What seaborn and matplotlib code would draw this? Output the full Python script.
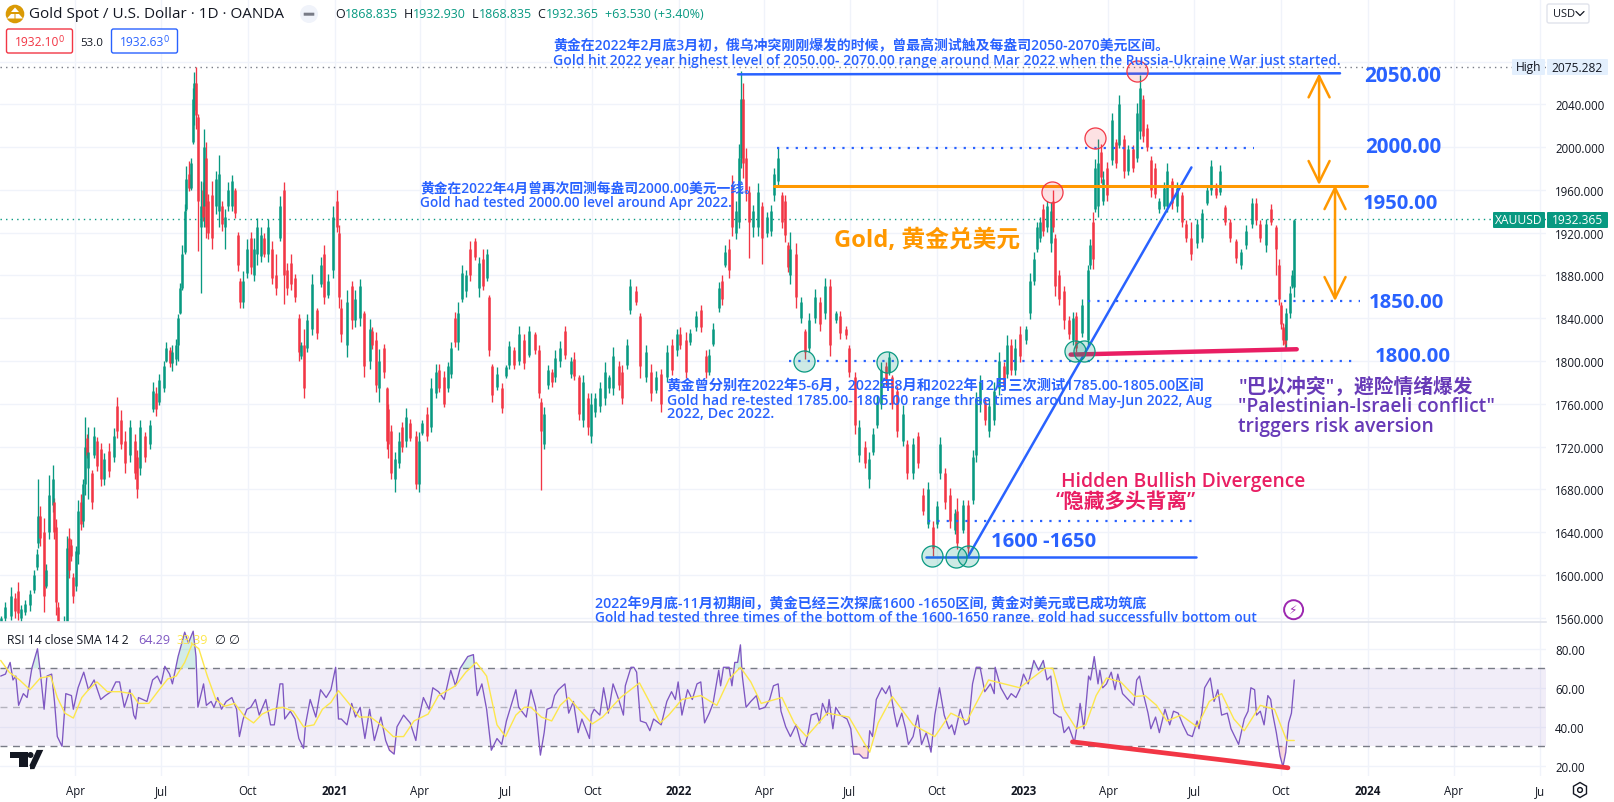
import numpy as np
import pandas as pd
import matplotlib
matplotlib.use("Agg")
import matplotlib.pyplot as plt
from matplotlib.patches import FancyBboxPatch, Circle, Polygon, RegularPolygon
import seaborn as sns

W, H = 1614, 803
PANE_R, MAIN_B, RSI_B = 1546, 623, 777
UP, DOWN = "#089981", "#F23645"
BLUE, ORANGE, PINK, PURPLE = "#2962FF", "#FF9800", "#E91E63", "#673AB7"
GRID = "#F0F3FA"

# bar position = calendar days after 2020-01-13
day_a = [0,5,11,15,18,22,26,31,35,38,
 40,42,46,48,51,55,57,59,61,64,
 67,70,72,75,77,80,82,85,87,89,
 91,93,97,99,102,106,109,115,120,123,
 127,132,137,142,144,148,153,158,161,165,
 168,173,175,179,182,186,188,190,192,195,
 196,200,202,204,205,207,209,212,214,216,
 218,220,224,228,231,235,238,241,245,248,
 252,254,257,261,265,268,272,276,279,283,
 288,292,296,300,303,308,312,316,318,321,
 325,330,335,339,343,347,352,356,359,361,
 367,372,376,381,385,391,394,398,401,406,
 409,411,414,418,422,425,430,434,440,443,
 447,452,456,461,465,470,474,477,482,485,
 489,493,497,503,507,511,515,518,521,526,
 531,536,539,544,549,555,560,566]
high_a = [1562,1575,1589,1583,1593,1572,1577,1586,1605,1624,
 1690,1664,1653,1610,1693,1703,1672,1652,1575,1520,
 1562,1636,1644,1634,1602,1627,1670,1676,1690,1748,
 1732,1738,1698,1738,1729,1723,1714,1723,1737,1766,
 1754,1735,1745,1732,1717,1745,1734,1745,1780,1776,
 1788,1800,1818,1813,1815,1821,1844,1873,1908,1947,
 1982,1987,1990,2055,2070,2075,2031,1968,1967,2017,
 2005,1956,1968,1978,1993,1950,1942,1967,1974,1962,
 1921,1878,1884,1914,1921,1915,1934,1925,1920,1933,
 1912,1900,1954,1967,1892,1900,1881,1844,1818,1830,
 1844,1881,1850,1897,1908,1881,1945,1960,1927,1858,
 1866,1875,1866,1877,1847,1839,1832,1827,1811,1816,
 1776,1760,1740,1715,1734,1743,1756,1746,1735,1734,
 1745,1757,1784,1797,1797,1791,1799,1818,1846,1855,
 1890,1885,1912,1915,1897,1905,1905,1862,1797,1794,
 1779,1796,1819,1813,1833,1825,1833,1827]
low_a = [1552,1555,1558,1560,1558,1556,1563,1566,1583,1605,
 1625,1627,1565,1588,1634,1659,1634,1563,1500,1470,
 1480,1540,1597,1613,1574,1585,1610,1642,1645,1675,
 1709,1671,1662,1709,1697,1683,1684,1692,1706,1728,
 1718,1695,1706,1690,1672,1693,1706,1718,1752,1749,
 1759,1771,1799,1794,1791,1796,1800,1844,1866,1900,
 1940,1959,1960,2003,2021,2017,1903,1864,1931,1925,
 1915,1914,1905,1937,1925,1922,1905,1940,1940,1934,
 1884,1850,1850,1878,1881,1875,1890,1893,1897,1893,
 1872,1862,1912,1853,1862,1866,1855,1800,1802,1765,
 1808,1824,1821,1869,1853,1859,1878,1921,1850,1818,
 1804,1830,1832,1833,1785,1793,1811,1771,1762,1784,
 1718,1709,1690,1678,1700,1715,1720,1725,1680,1678,
 1731,1725,1734,1765,1771,1757,1771,1784,1813,1810,
 1855,1860,1875,1894,1860,1866,1875,1805,1762,1773,
 1751,1784,1793,1793,1796,1793,1804,1807]
open_a = [1556,1560,1562,1578,1585,1560,1565,1572,1586,1607,
 1630,1655,1640,1590,1640,1665,1668,1645,1570,1505,
 1490,1545,1635,1628,1598,1590,1620,1668,1650,1685,
 1728,1700,1695,1712,1725,1718,1690,1716,1710,1758,
 1745,1725,1712,1725,1710,1700,1730,1722,1755,1770,
 1762,1775,1800,1810,1798,1802,1815,1845,1868,1902,
 1942,1975,1962,2005,2035,2060,2028,1925,1960,1945,
 1990,1950,1955,1945,1940,1945,1925,1945,1945,1960,
 1918,1875,1855,1882,1915,1880,1900,1898,1915,1900,
 1905,1880,1915,1960,1885,1892,1878,1840,1805,1815,
 1812,1830,1848,1872,1900,1862,1885,1950,1920,1850,
 1815,1870,1838,1840,1845,1800,1828,1820,1775,1812,
 1775,1755,1735,1690,1705,1738,1725,1742,1730,1685,
 1733,1750,1738,1770,1792,1785,1775,1788,1840,1818,
 1858,1865,1905,1912,1868,1895,1878,1860,1795,1776,
 1775,1786,1796,1810,1800,1820,1806,1825]
close_a = [1560,1570,1580,1566,1564,1568,1573,1582,1600,1620,
 1655,1635,1580,1605,1675,1690,1640,1575,1510,1490,
 1550,1625,1605,1618,1580,1622,1660,1648,1685,1720,
 1712,1715,1668,1730,1702,1690,1708,1697,1730,1735,
 1722,1705,1738,1695,1680,1738,1710,1740,1772,1755,
 1782,1795,1812,1798,1808,1815,1840,1868,1900,1940,
 1970,1962,1985,2045,2060,2030,1950,1945,1935,2000,
 1925,1920,1915,1970,1975,1928,1935,1960,1968,1938,
 1890,1855,1875,1905,1888,1905,1925,1918,1900,1925,
 1878,1868,1945,1880,1868,1872,1860,1808,1815,1775,
 1838,1872,1826,1890,1860,1875,1935,1925,1860,1825,
 1855,1838,1858,1870,1795,1830,1815,1778,1800,1790,
 1725,1722,1695,1708,1725,1720,1748,1728,1685,1725,
 1742,1730,1775,1790,1775,1760,1795,1812,1818,1845,
 1882,1880,1880,1897,1892,1870,1900,1810,1768,1788,
 1756,1794,1814,1796,1825,1798,1828,1810]

day_b = [571,573,576,580,584,588,593,598,604,608,
 613,617,622,626,630,635,640,645,649,655,
 659,664,667,673,678,684,689,695,700,706,
 711,717,720,726,731,737,742,747,751,755,
 761,764,768,772,775,779,782,785,787,790,
 793,797,803,807,812,816,820,824,828,831,
 834,837,843,848,852,857,863,868,874,879,
 885,890,896,899,905,910,916,920,925,929,
 933,938,941,945,950,956,961,967,972,978,
 983,988,992,996,1001,1006,1011,1014,1020,1025,
 1030,1034,1038,1043,1047,1053,1058,1063,1067,1071,
 1075,1080,1087,1091,1095,1098,1102,1105,1109,1113,
 1115,1117,1122]
high_b = [1815,1765,1757,1796,1793,1810,1819,1833,1804,1808,
 1787,1787,1770,1770,1770,1780,1799,1787,1813,1800,
 1796,1821,1877,1870,1845,1815,1797,1791,1793,1815,
 1821,1830,1832,1827,1830,1847,1852,1810,1811,1836,
 1874,1880,1908,1914,1974,1950,2003,2071,2060,1999,
 1964,1946,1966,1949,1939,1946,1980,1999,1958,1955,
 1911,1921,1910,1860,1830,1845,1867,1860,1878,1877,
 1847,1847,1833,1815,1790,1745,1725,1715,1737,1768,
 1799,1799,1808,1787,1777,1759,1726,1728,1734,1681,
 1687,1650,1669,1729,1700,1681,1662,1672,1670,1670,
 1717,1771,1787,1765,1765,1780,1808,1799,1824,1821,
 1821,1833,1833,1882,1902,1930,1935,1947,1950,1949,
 1960,1919,1885]
low_b = [1765,1679,1718,1774,1776,1780,1794,1802,1784,1782,
 1745,1738,1731,1723,1748,1752,1759,1770,1768,1773,
 1760,1793,1844,1852,1784,1780,1763,1770,1752,1780,
 1787,1805,1811,1784,1815,1828,1827,1784,1787,1814,
 1846,1852,1888,1878,1917,1914,1924,1980,1971,1950,
 1896,1916,1917,1891,1916,1917,1950,1964,1924,1911,
 1883,1872,1850,1836,1802,1808,1836,1828,1839,1805,
 1836,1821,1821,1785,1732,1706,1700,1681,1712,1737,
 1755,1777,1787,1755,1729,1721,1690,1690,1700,1656,
 1644,1618,1644,1690,1662,1644,1638,1624,1639,1619,
 1666,1706,1752,1740,1729,1740,1768,1774,1784,1787,
 1787,1799,1816,1839,1871,1902,1911,1917,1921,1902,
 1921,1861,1852]
open_b = [1810,1762,1722,1778,1790,1785,1800,1828,1788,1802,
 1785,1745,1765,1730,1752,1758,1765,1775,1775,1795,
 1790,1796,1848,1865,1842,1785,1790,1773,1788,1785,
 1815,1810,1825,1820,1818,1832,1848,1805,1790,1816,
 1850,1875,1890,1905,1965,1920,1930,1990,2045,1990,
 1958,1925,1925,1945,1920,1922,1955,1968,1955,1950,
 1908,1880,1900,1840,1828,1812,1840,1855,1845,1870,
 1838,1842,1830,1812,1785,1712,1720,1690,1715,1740,
 1760,1795,1790,1785,1772,1725,1722,1695,1730,1675,
 1648,1645,1648,1695,1695,1675,1642,1660,1642,1665,
 1670,1712,1760,1762,1735,1745,1775,1795,1788,1815,
 1792,1825,1820,1845,1875,1905,1915,1942,1925,1910,
 1950,1915,1880]
close_b = [1770,1735,1750,1792,1780,1803,1812,1806,1800,1786,
 1750,1780,1738,1760,1765,1775,1790,1785,1805,1778,
 1765,1815,1870,1855,1795,1808,1770,1785,1760,1808,
 1792,1825,1815,1790,1826,1842,1832,1790,1806,1830,
 1868,1858,1902,1885,1925,1940,1990,2045,1985,1960,
 1930,1940,1958,1915,1935,1940,1975,1990,1930,1918,
 1888,1905,1860,1855,1808,1838,1860,1835,1870,1815,
 1845,1826,1824,1790,1740,1738,1705,1708,1732,1762,
 1792,1782,1804,1760,1735,1750,1695,1722,1705,1660,
 1680,1625,1664,1722,1668,1650,1658,1630,1665,1625,
 1710,1765,1780,1745,1758,1772,1800,1778,1815,1792,
 1812,1805,1830,1875,1895,1925,1930,1922,1945,1940,
 1925,1870,1858]

day_c = [1127,1132,1137,1140,1146,1152,1155,1158,1160,1163,
 1166,1168,1172,1178,1182,1185,1191,1195,1200,1204,
 1207,1211,1215,1219,1223,1228,1233,1236,1241,1247,
 1252,1256,1262,1268,1273,1279,1283,1288,1292,1298,
 1303,1309,1315,1320,1326,1330,1335,1341,1346,1352,
 1355,1357,1359,1361,1362,1366,1369,1371]
high_c = [1870,1842,1846,1846,1858,1890,1914,1939,1989,2008,
 2003,1978,1986,2032,2008,2049,2011,2002,2002,2041,
 2067,2049,2022,1992,1985,1952,1967,1985,1971,1967,
 1958,1932,1930,1933,1942,1964,1988,1966,1983,1946,
 1933,1914,1905,1927,1952,1952,1932,1933,1947,1927,
 1895,1855,1836,1835,1850,1870,1885,1933]
low_c = [1830,1821,1815,1808,1822,1814,1886,1886,1939,1935,
 1966,1946,1950,1983,1980,1999,1971,1974,1977,1986,
 2008,2005,1996,1953,1952,1938,1942,1939,1942,1939,
 1925,1911,1894,1906,1911,1946,1955,1952,1955,1927,
 1911,1892,1886,1905,1924,1927,1911,1902,1927,1880,
 1852,1830,1815,1811,1811,1840,1868,1860]
open_c = [1865,1838,1820,1842,1826,1820,1890,1930,1942,1945,
 1995,1950,1980,1988,2005,2002,2008,1978,1998,1990,
 2015,2045,2018,1988,1980,1942,1945,1945,1968,1945,
 1955,1928,1915,1910,1915,1948,1960,1962,1958,1944,
 1930,1912,1890,1908,1928,1948,1928,1908,1942,1925,
 1890,1852,1832,1830,1820,1845,1870,1869]
close_c = [1838,1825,1840,1812,1852,1885,1908,1895,1980,1985,
 1972,1970,1955,2025,1985,2040,1978,1998,1980,2032,
 2055,2010,2000,1960,1956,1950,1962,1978,1948,1962,
 1930,1915,1900,1928,1938,1960,1982,1955,1978,1930,
 1915,1896,1902,1922,1948,1932,1915,1928,1930,1905,
 1858,1835,1820,1816,1845,1864,1880,1932]

rsi_day = [0,5,10,13,16,19,24,28,33,39,42,46,49,54,57,60,65,69,75,77,82,88,93,99,106,111,117,122,126,131,
 137,141,143,146,155,161,166,170,174,179,182,188,192,195,199,204,207,209,212,215,218,223,226,230,234,239,245,250,253,257,
 261,265,270,274,281,286,290,296,299,301,307,312,316,321,323,328,334,339,345,350,355,358,361,367,372,376,381,386,391,396,
 403,408,412,417,420,427,434,440,443,448,454,458,464,470,477,482,487,495,501,505,510,515,520,526,531,536,546,549,557,
 562,567,572,576,579,584,587,591,598,602,607,612,616,624,626,629,635,639,644,649,655,660,662,668,671,674,678,684,688,692,
 700,706,711,715,718,722,728,733,738,742,746,751,755,761,763,766,772,775,778,781,784,786,790,795,801,804,810,815,819,824,
 827,832,837,843,848,852,855,859,865,868,871,876,878,882,885,890,897,901,904,910,914,919,921,924,928,934,938,942,947,950,
 955,959,962,967,972,976,981,986,990,995,1000,1005,1008,1011,1017,1022,1026,1030,1034,1038,1043,1049,1053,1054,1060,1067,1071,1076,1080,1084,
 1089,1095,1100,1105,1109,1113,1116,1122,
 1124,1127,1132,1138,1142,1144,1148,1153,1155,1159,1163,1165,1168,1172,1177,1181,1184,1189,1195,1201,1204,1207,1210,1216,1219,1224,1228,1234,1239,1243,
 1248,1253,1258,1263,1268,1270,1273,1276,1282,1286,1290,1294,1300,1304,1312,1318,1322,1325,1329,1331,1335,1339,1343,1346,1348,1352,1356,1359,1362,1365,1368,1371]
rsi_val = [66,67,73,64,66,51,57,55,70,80,68,49,66,67,53,35,30,57,56,49,60,68,59,64,54,56,58,63,63,50,
 59,46,44,55,53,64,66,62,71,67,62,76,83,88.5,83,89,76,50,56,62,51,53,50,55,49,53,55,49,35,44,
 49,50,54,46,54,41,41,62,62,44,48,44,34,29,41,54,45,59,55,59,70.5,44,44,41,52,45,50,34,49,33,
 45,33,28,26,40,46,42,33,44,55,49,60,58,54,69,61,70,76,77,56,62,49,28,34,31,43,59,50,45,
 59,50,25.5,37,49,50,56,59,62,47,53,37,44,34,46,49,46,60,47,62,54,46,61,70.5,70.5,68,43,42,38,44,
 41,53,58,54,63,46,59,54,62,63,42,47,52,69,61,70.5,70.5,61,73,73,82,66,50,53,56,49,50,54,61,62,
 48,40,35,41,32,30,35,46,47,42,52,46,54,39,50,46,44,39,26,26,24,24,38,35,54,60,57,61,47,40,
 47,39,31,35,46,31,37,27,46,60,46,39,41,36,49,41,42,62,70.5,70.5,58,62,57,70.5,60,54,57,55,59,67,
 62,74,69,74,64,66,47,45,
 45,37,40,32,44,52,39,66,64,76,62,69,60,62,68,59,67,57,54,51,64,66,59,47,39,45,37,49,41,48,
 47,41,36,35,43,39,47,60,65,53,59,46,47,39,31,44,48,60,59,46,48,41,56,54,47,37,25,19.5,27,42,47,64]

ma_day = [0,9,20,31,42,53,60,68,77,86,93,102,113,126,139,146,157,168,177,186,195,203,210,219,228,237,248,259,268,277,
 288,299,310,321,332,341,350,358,369,380,392,403,416,427,438,453,464,482,493,504,515,526,535,546,555,562,
 573,584,593,602,611,627,638,657,677,688,699,708,722,742,759,772,784,795,806,828,841,854,876,899,921,930,945,967,990,1007,1024,1047,1080,1107,1115,
 1127,1140,1150,1161,1172,1187,1202,1213,1225,1236,1251,1268,1281,1294,1307,1318,1335,1350,1363,1371]
ma_val = [74,68,64,59,65,66,55,47,44.5,55,59,63,58,58,57,52,52,59,64.5,66,73,82.5,80,66,54,50.5,52,45,42,46.5,
 49,50,48,40,41,49,52.5,58.5,52,45,45,41,35,35,43,46.5,56,61,68,73,66,41,35,46,50,50,
 45,43,51,55,50,41.5,45,55,62.5,52.5,42,46,54,56,51,64.5,70.5,63,52,55,42,35,47,45,27,42,55.5,41,35,47,43,64,60,70,70,
 49,39,41,56,65,63,55.5,56,51,43,46,40,53,57,44,38,51,49,33,33]

price_ticks = [1560,1600,1640,1680,1720,1760,1800,1840,1880,1920,1960,2000,2040,2080]
rsi_ticks = [20,40,60,80]
time_dates = ["2020-04-01","2020-07-01","2020-10-01","2021-01-01","2021-04-01","2021-07-01","2021-10-01",
              "2022-01-01","2022-04-01","2022-07-01","2022-10-01","2023-01-01","2023-04-01","2023-07-01",
              "2023-10-01","2024-01-01","2024-04-01","2024-07-01"]
time_labels = ["Apr","Jul","Oct","2021","Apr","Jul","Oct","2022","Apr","Jul","Oct","2023","Apr","Jul","Oct","2024","Apr","Ju"]
high_mark, last_close = 2075.282, 1932.365

candles = pd.DataFrame({"day": day_a+day_b+day_c, "high": high_a+high_b+high_c, "low": low_a+low_b+low_c,
                        "open": open_a+open_b+open_c, "close": close_a+close_b+close_c})
rsi = pd.DataFrame({"day": rsi_day, "rsi": rsi_val})
ma = pd.DataFrame({"day": ma_day, "ma": ma_val})

sns.set_theme(style="white")
LAT = ["Open Sans", "Noto Sans CJK SC", "DejaVu Sans"]
plt.rcParams["font.family"] = LAT
plt.rcParams["axes.unicode_minus"] = False

fig = plt.figure(figsize=(W/100, H/100), dpi=100, facecolor="white")
ax = fig.add_axes([0, 1-MAIN_B/H, PANE_R/W, MAIN_B/H])
rx = fig.add_axes([0, 1-RSI_B/H, PANE_R/W, (RSI_B-MAIN_B)/H], sharex=ax)
ov = fig.add_axes([0, 0, 1, 1], zorder=10)
ov.set_xlim(0, W); ov.set_ylim(H, 0); ov.axis("off"); ov.patch.set_alpha(0)

origin = pd.Timestamp("2020-01-13")
tick_days = [(pd.Timestamp(d)-origin).days for d in time_dates]
ax.set_xlim(-0.74, 1637.8)
ax.set_ylim(1556.0, 2138.45)
rx.set_ylim(14.8, 93.7)

for a in (ax, rx):
    a.set_facecolor("white")
    for s in a.spines.values():
        s.set_visible(False)
    a.set_xticks(tick_days)
    a.grid(True, color=GRID, lw=1.0, zorder=0)
    a.set_axisbelow(True)
    a.yaxis.tick_right()
    a.tick_params(length=0, labelsize=8.3, labelcolor="#131722", pad=6.5)
ax.set_yticks(price_ticks)
ax.set_yticklabels([f"{v:.3f}" for v in price_ticks])
ax.tick_params(axis="x", labelbottom=False)
rx.set_yticks(rsi_ticks)
rx.set_yticklabels([f"{v:.2f}" for v in rsi_ticks])
rx.set_xticklabels(time_labels)
rx.tick_params(axis="x", pad=6)
for lab, txt in zip(rx.get_xticklabels(), time_labels):
    if txt.isdigit():
        lab.set_fontweight("bold")
rx.spines["top"].set_visible(True); rx.spines["top"].set_color("#E0E3EB"); rx.spines["top"].set_linewidth(1.2)

# candles
up = candles["close"] >= candles["open"]
cols = np.where(up, UP, DOWN)
ax.vlines(candles["day"], candles["low"], candles["high"], colors=cols, lw=0.95, zorder=3)
ax.vlines(candles["day"], candles[["open", "close"]].min(axis=1), candles[["open", "close"]].max(axis=1),
          colors=cols, lw=1.8, zorder=3)

# reference levels in data units
ax.axhline(high_mark, color="#787B86", lw=1, ls=(0, (1, 3)), zorder=2)
ax.axhline(last_close, color=UP, lw=1, ls=(0, (1, 3)), zorder=2)
dots = (0, (1, 3.2))
ax.plot([822.8, 1328], [1999, 1999], color=BLUE, lw=1.6, ls=dots, zorder=4)
ax.plot([1152, 1440.7], [1856, 1856], color=BLUE, lw=1.6, ls=dots, zorder=4)
ax.plot([835.5, 1435.4], [1800, 1800], color=BLUE, lw=1.6, ls=dots, zorder=4)
ax.plot([982.5, 1263.2], [1650, 1650], color=BLUE, lw=1.6, ls=dots, zorder=4)
ax.plot([781.4, 1419.5], [2068, 2069], color=BLUE, lw=1.8, zorder=4)
ax.plot([980.7, 1266.9], [1617, 1617], color=BLUE, lw=1.8, zorder=4)
ax.plot([1025.2, 1262], [1617, 1981], color=BLUE, lw=1.8, zorder=4)
ax.plot([820, 1447.8], [1964, 1964], color=ORANGE, lw=2.2, zorder=4)
ax.plot([1134, 1373.6], [1806, 1811], color=PINK, lw=3.2, solid_capstyle="round", zorder=4)
for xa, y0, y1 in [(1397.3, 2069, 1964.5), (1414.2, 1964.5, 1856)]:
    ax.annotate("", xy=(xa, y1), xytext=(xa, y0), zorder=4,
                arrowprops=dict(arrowstyle="<->,head_length=0.85,head_width=0.42", color=ORANGE, lw=1.8,
                                mutation_scale=18, shrinkA=0, shrinkB=0))
ax.scatter([1204, 1160, 1114.7], [2070.9, 2008.5, 1957.7], s=230, facecolor=(0.949, 0.212, 0.271, 0.15),
           edgecolor=DOWN, lw=0.9, zorder=5)
ax.scatter([851.2, 939.8, 987, 1012.8, 1025.6, 1138.6, 1148.2], [1799.7, 1799, 1617.4, 1616.8, 1617.7, 1809.6, 1809.6],
           s=230, facecolor=(0.031, 0.6, 0.506, 0.2), edgecolor=UP, lw=0.9, zorder=5)

# RSI pane
rx.axhspan(30, 70, color="#7E57C2", alpha=0.1, lw=0, zorder=1)
for lv in (70, 50, 30):
    rx.axhline(lv, color="#787B86", lw=1, ls=(0, (5, 4)), zorder=2, alpha=0.5 if lv == 50 else 1)
v = np.array(rsi_val, float); dd = np.array(rsi_day, float)
rx.fill_between(dd, 70, v, where=v > 70, interpolate=True, color=UP, alpha=0.18, lw=0, zorder=2)
rx.fill_between(dd, 30, v, where=v < 30, interpolate=True, color=DOWN, alpha=0.18, lw=0, zorder=2)
sns.lineplot(data=rsi, x="day", y="rsi", ax=rx, color="#7E57C2", lw=0.95, estimator=None, sort=False, zorder=3)
sns.lineplot(data=ma, x="day", y="ma", ax=rx, color="#FDE74C", lw=1.0, estimator=None, sort=False, zorder=4)
rx.plot([1135.9, 1364.3], [32.3, 19], color=DOWN, lw=3.4, solid_capstyle="round", zorder=5)
rx.set_xlabel(""); rx.set_ylabel(""); ax.set_xlabel(""); ax.set_ylabel("")

renderer = fig.canvas.get_renderer()
def T(x, y, s, size, color, x_end=None, weight="normal", ha="left", clip=None, fam=None):
    t = ov.text(x, y, s, fontsize=size*0.72, color=color, va="center", ha=ha, fontweight=weight, family=fam or LAT)
    if x_end is not None:
        w = t.get_window_extent(renderer).width
        t.set_fontsize(t.get_fontsize()*(x_end-x)/w)
    if clip is not None:
        t.set_clip_path(clip.patch); t.set_clip_on(True)
    return t

b = "semibold"
T(553, 46.5, "黄金在2022年2月底3月初，俄乌冲突刚刚爆发的时候，曾最高测试触及每盎司2050-2070美元区间。", 14, BLUE, 1168, b)
T(553, 61.5, "Gold hit 2022 year highest level of 2050.00- 2070.00 range around Mar 2022 when the Russia-Ukraine War just started.", 14, BLUE, 1338, b)
T(420, 188, "黄金在2022年4月曾再次回测每盎司2000.00美元一线。", 14, BLUE, 757, b)
T(420, 202.5, "Gold had tested 2000.00 level around Apr 2022.", 14, BLUE, 731, b)
T(666.7, 386, "黄金曾分别在2022年5-6月，2022年8月和2022年12月三次测试1785.00-1805.00区间", 14, BLUE, 1205, b)
T(666.7, 400.5, "Gold had re-tested 1785.00- 1805.00 range three times around May-Jun 2022, Aug", 14, BLUE, 1211, b)
T(666.7, 414.5, "2022, Dec 2022.", 14, BLUE, 774, b)
T(595.4, 604, "2022年9月底-11月初期间，黄金已经三次探底1600 -1650区间, 黄金对美元或已成功筑底", 14, BLUE, 1148, b)
T(595.4, 618.5, "Gold had tested three times of the bottom of the 1600-1650 range. gold had successfully bottom out", 14, BLUE, 1256, b, clip=ax)
T(1364, 77, "2050.00", 20, BLUE, 1441, "bold")
T(1365.5, 147.5, "2000.00", 20, BLUE, 1442.5, "bold")
T(1363, 204, "1950.00", 20, BLUE, 1438.5, "bold")
T(1369, 303, "1850.00", 20, BLUE, 1444.5, "bold")
T(1374.5, 357, "1800.00", 20, BLUE, 1450.5, "bold")
T(991.4, 542.5, "1600 -1650", 20, BLUE, 1097, "bold")
T(833.7, 240.5, "Gold, 黄金兑美元", 22, ORANGE, 1019.7, "bold")
T(1238.4, 387, "\"巴以冲突\"，避险情绪爆发", 20, PURPLE, 1472.7, b)
T(1238.4, 407, "\"Palestinian-Israeli conflict\"", 20, PURPLE, 1494.6, b)
T(1238.4, 427.5, "triggers risk aversion", 20, PURPLE, 1434, b)
T(1060.7, 482, "Hidden Bullish Divergence", 19, PINK, 1304.5, b)
T(1056, 502, "“隐藏多头背离”", 19, PINK, 1196, b)

# header
ov.add_patch(Circle((15, 15), 9.3, color="#DA9A05", lw=0))
ov.add_patch(Polygon([[15, 8.5], [19, 13], [11, 13]], color="white", lw=0))
ov.add_patch(Polygon([[7, 19.5], [11, 15], [14.5, 15], [14.5, 19.5]], color="white", lw=0))
ov.add_patch(Polygon([[15.5, 19.5], [15.5, 15], [19, 15], [23, 19.5]], color="white", lw=0))
T(29, 15, "Gold Spot / U.S. Dollar · 1D · OANDA", 15, "#131722", 285)
ov.add_patch(Circle((309, 15), 9, color="#F0F3FA", lw=0))
ov.add_patch(FancyBboxPatch((304, 14), 10, 2.4, boxstyle="round,pad=0.3", color="#787B86", lw=0))
xp = 335
for lab, val in [("O", "1868.835"), ("H", "1932.930"), ("L", "1868.835"), ("C", "1932.365"), ("", "+63.530 (+3.40%)")]:
    if lab:
        t = T(xp, 15, lab, 12.5, "#131722")
        xp = t.get_window_extent(renderer).x1
    t = T(xp, 15, val, 12.5, UP)
    xp = t.get_window_extent(renderer).x1 + 6

for x0, x1, col, txt in [(6.5, 72.5, DOWN, "1932.10"), (111.5, 177.5, BLUE, "1932.63")]:
    ov.add_patch(FancyBboxPatch((x0+2, 32), x1-x0-4, 20, boxstyle="round,pad=2", fc="white", ec=col, lw=1))
    T(x0+8, 43, txt, 12.5, col, x0+52)
    T(x0+52, 40, "0", 9, col)
T(92, 43, "53.0", 11.5, "#131722", ha="center")

# price-axis tags
def tag(x0, x1, yc, txt, fc, col):
    ov.add_patch(FancyBboxPatch((x0+1, yc-7), x1-x0-2, 14, boxstyle="round,pad=1", fc=fc, ec=fc, lw=0))
    T((x0+x1)/2, yc, txt, 12, col, ha="center")
tag(1512, 1545, 68, "High", "#E3EFFD", "#131722")
tag(1547, 1608, 68, "2075.282", "#E3EFFD", "#131722")
tag(1493, 1545, 221, "XAUUSD", UP, "white")
tag(1547, 1608, 221, "1932.365", UP, "white")

ov.add_patch(FancyBboxPatch((1549, 7), 38, 15, boxstyle="round,pad=2", fc="white", ec="#E0E3EB", lw=1))
T(1553, 14.5, "USD", 11, "#131722")
ov.plot([1576, 1580, 1584], [12.5, 16.5, 12.5], color="#131722", lw=0.9)

# lightning icon
ov.add_patch(Circle((1293.6, 610.7), 9.5, fc="white", ec="#9C27B0", lw=1.4))
T(1293.6, 610.7, "⚡", 12, "#9C27B0", ha="center", fam=["DejaVu Sans"])

# RSI legend
T(7, 641, "RSI 14 close SMA 14 2", 12.5, "#131722", 130)
T(138, 641, "64.29", 12.5, "#7E57C2", 170)
T(176.6, 641, "33.39", 12.5, "#FDE74C", 208)
T(214, 641, "∅", 12.5, "#131722", fam=["DejaVu Sans"])
T(228, 641, "∅", 12.5, "#131722", fam=["DejaVu Sans"])

# TradingView mark
ov.add_patch(Polygon([[10, 753], [28, 753], [28, 768], [19, 768], [19, 759], [10, 759]], color="#131722", lw=0))
ov.add_patch(Circle((30.5, 756), 3, color="#131722", lw=0))
ov.add_patch(Polygon([[33, 768], [30, 768], [31, 768], [38, 753], [40, 753], [40, 753], [33, 768]], color="#131722", lw=3))

# settings icon
ov.add_patch(RegularPolygon((1580, 791), 6, radius=7.5, fc="white", ec="#131722", lw=1))
ov.add_patch(Circle((1580, 791), 2.4, fc="white", ec="#131722", lw=1))

fig.savefig("out.png", dpi=100, facecolor="white")
